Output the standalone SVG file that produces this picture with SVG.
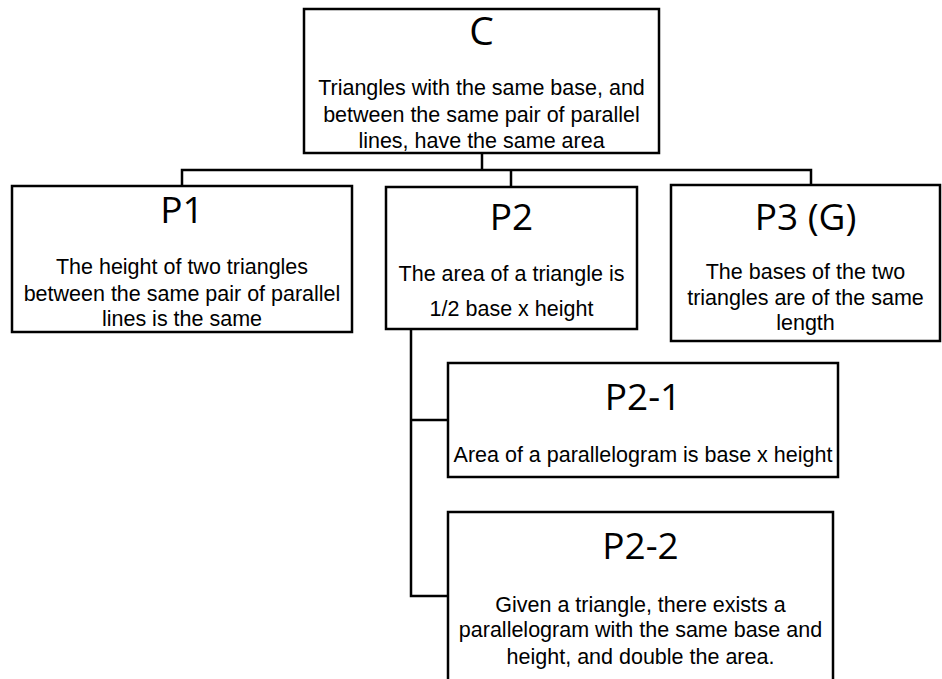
<svg xmlns="http://www.w3.org/2000/svg" width="942" height="679" viewBox="0 0 942 679">
<style>
.box{fill:#fff;stroke:#000;stroke-width:2.5}
.ln{fill:none;stroke:#000;stroke-width:2.5}
.t{font-family:"Open Sans","Noto Sans",sans-serif;fill:#000;text-anchor:middle}
.h{font-size:37px}
.b{font-family:"Liberation Sans",Arial,sans-serif;font-size:21.5px}
</style>
<rect width="942" height="679" fill="#fff"/>
<g id="connectors">
<polyline class="ln" points="482,153 482,170"/>
<polyline class="ln" points="182,186 182,170 811,170 811,185"/>
<polyline class="ln" points="511,170 511,187"/>
<polyline class="ln" points="411,329 411,596 448,596"/>
<polyline class="ln" points="411,420 448,420"/>
</g>
<g id="C">
<rect class="box" x="304" y="9" width="355" height="144"/>
<text class="t h" x="481.5" y="45" style="font-size:39px">C</text>
<text class="t b" x="481.5" y="95">Triangles with the same base, and</text>
<text class="t b" x="481.5" y="122">between the same pair of parallel</text>
<text class="t b" x="481.5" y="148">lines, have the same area</text>
</g>
<g id="P1">
<rect class="box" x="12" y="186" width="340" height="146"/>
<text class="t h" x="182" y="223">P1</text>
<text class="t b" x="182" y="274">The height of two triangles</text>
<text class="t b" x="182" y="301">between the same pair of parallel</text>
<text class="t b" x="182" y="326">lines is the same</text>
</g>
<g id="P2">
<rect class="box" x="386" y="187" width="251" height="142"/>
<text class="t h" x="511.5" y="230">P2</text>
<text class="t b" x="511.5" y="281">The area of a triangle is</text>
<text class="t b" x="511.5" y="316">1/2 base x height</text>
</g>
<g id="P3">
<rect class="box" x="671" y="185" width="269" height="156"/>
<text class="t h" x="805.5" y="230">P3 (G)</text>
<text class="t b" x="805.5" y="279">The bases of the two</text>
<text class="t b" x="805.5" y="305">triangles are of the same</text>
<text class="t b" x="805.5" y="330">length</text>
</g>
<g id="P2-1">
<rect class="box" x="448" y="363" width="390" height="114"/>
<text class="t h" x="643" y="410">P2-1</text>
<text class="t b" x="643" y="462">Area of a parallelogram is base x height</text>
</g>
<g id="P2-2">
<rect class="box" x="448" y="512" width="385" height="180"/>
<text class="t h" x="640.5" y="559">P2-2</text>
<text class="t b" x="640.5" y="612">Given a triangle, there exists a</text>
<text class="t b" x="640.5" y="637">parallelogram with the same base and</text>
<text class="t b" x="640.5" y="664">height, and double the area.</text>
</g>
</svg>
